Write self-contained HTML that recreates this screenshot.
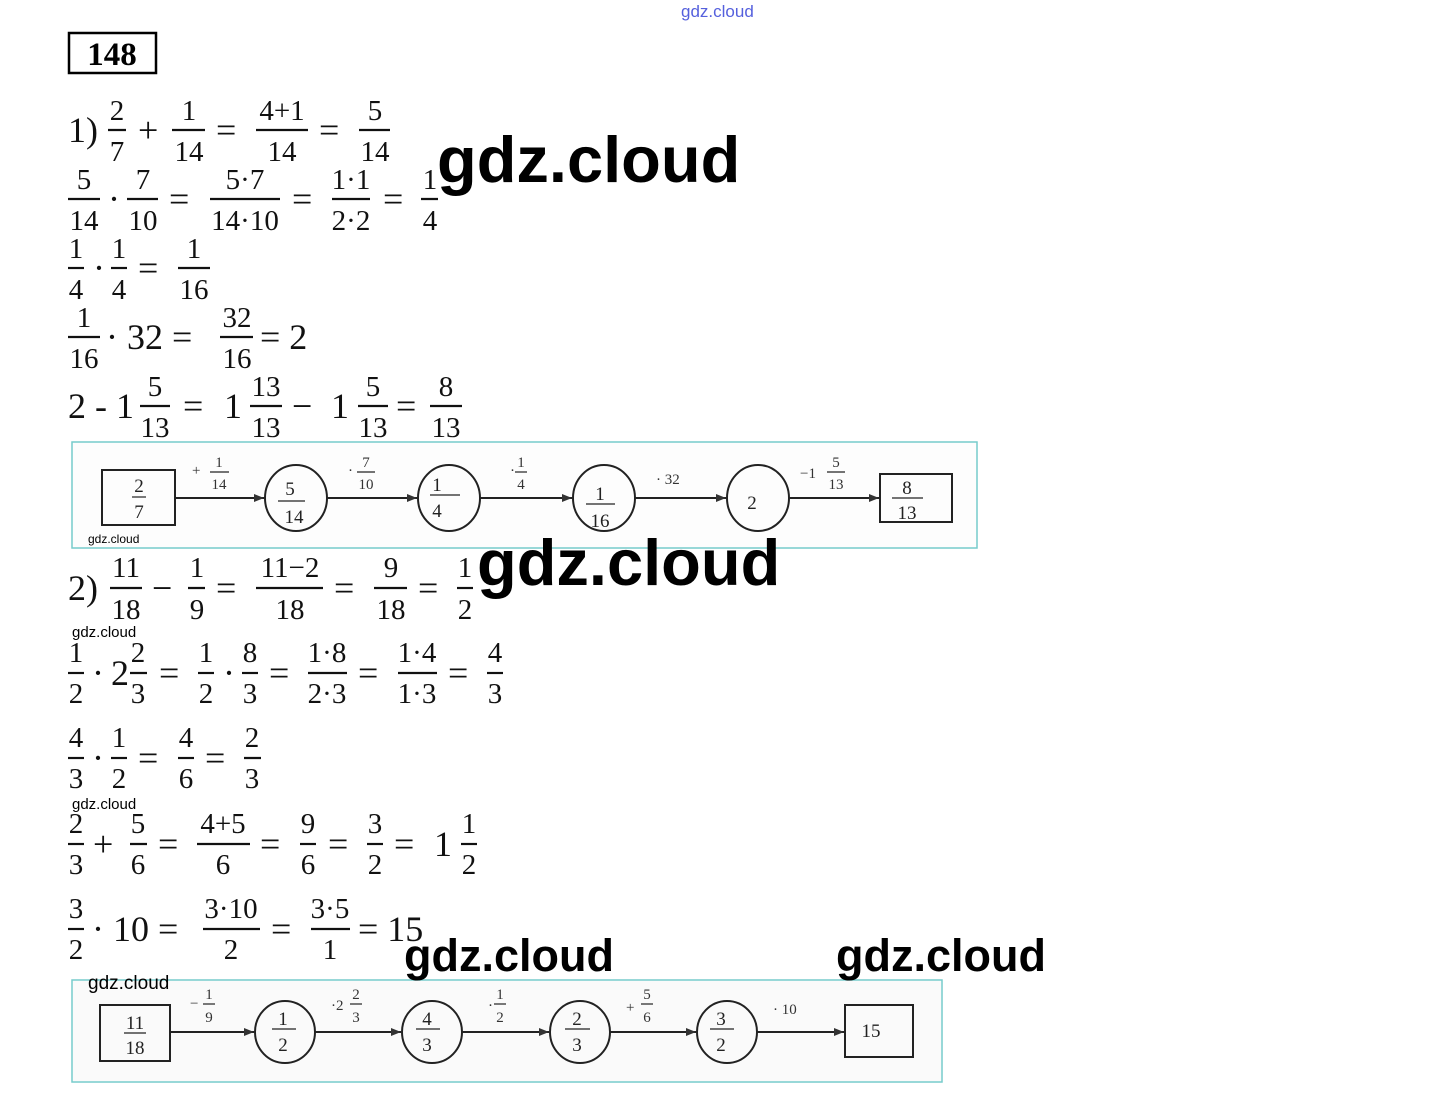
<!DOCTYPE html>
<html><head><meta charset="utf-8"><style>
body{margin:0;background:#fff;}
svg{display:block}
.m{font-family:"Liberation Serif",serif;font-size:29px;fill:#111}
.m text.o{font-size:36px}
.d{font-family:"Liberation Serif",serif;font-size:19px;fill:#222}
.s{font-family:"Liberation Serif",serif;font-size:15px;fill:#333}
.w{font-family:"Liberation Sans",sans-serif;font-weight:bold;fill:#000}
</style></head><body>
<svg width="1439" height="1104" viewBox="0 0 1439 1104" xmlns="http://www.w3.org/2000/svg">
<defs><marker id="a" markerWidth="10" markerHeight="8" refX="10" refY="4" orient="auto" markerUnits="userSpaceOnUse"><path d="M0,0L10,4L0,8Z" fill="#333"/></marker></defs>
<text x="681" y="17" font-family="Liberation Sans" font-size="17" fill="#5560dd">gdz.cloud</text>
<rect x="69" y="33" width="87" height="40" fill="none" stroke="#000" stroke-width="2.5"/>
<text x="112" y="65" text-anchor="middle" font-family="Liberation Serif" font-weight="bold" font-size="33">148</text>
<g class="m" stroke="#111" stroke-width="2.2">
<!-- line1 -->
<text x="68" y="142" stroke="none" class="o">1)</text>
<text x="117" y="120" text-anchor="middle" stroke="none">2</text><line x1="108" y1="130" x2="126" y2="130"/><text x="117" y="161" text-anchor="middle" stroke="none">7</text>
<text x="138" y="142" stroke="none" class="o">+</text>
<text x="189" y="120" text-anchor="middle" stroke="none">1</text><line x1="172" y1="130" x2="205" y2="130"/><text x="189" y="161" text-anchor="middle" stroke="none">14</text>
<text x="216" y="142" stroke="none" class="o">=</text>
<text x="282" y="120" text-anchor="middle" stroke="none">4+1</text><line x1="256" y1="130" x2="308" y2="130"/><text x="282" y="161" text-anchor="middle" stroke="none">14</text>
<text x="319" y="142" stroke="none" class="o">=</text>
<text x="375" y="120" text-anchor="middle" stroke="none">5</text><line x1="359" y1="130" x2="390" y2="130"/><text x="375" y="161" text-anchor="middle" stroke="none">14</text>
<!-- line2 -->
<text x="84" y="189" text-anchor="middle" stroke="none">5</text><line x1="68" y1="199" x2="100" y2="199"/><text x="84" y="230" text-anchor="middle" stroke="none">14</text>
<text x="108" y="211" stroke="none" class="o">·</text>
<text x="143" y="189" text-anchor="middle" stroke="none">7</text><line x1="127" y1="199" x2="158" y2="199"/><text x="143" y="230" text-anchor="middle" stroke="none">10</text>
<text x="169" y="211" stroke="none" class="o">=</text>
<text x="245" y="189" text-anchor="middle" stroke="none">5·7</text><line x1="210" y1="199" x2="280" y2="199"/><text x="245" y="230" text-anchor="middle" stroke="none">14·10</text>
<text x="292" y="211" stroke="none" class="o">=</text>
<text x="351" y="189" text-anchor="middle" stroke="none">1·1</text><line x1="332" y1="199" x2="370" y2="199"/><text x="351" y="230" text-anchor="middle" stroke="none">2·2</text>
<text x="383" y="211" stroke="none" class="o">=</text>
<text x="430" y="189" text-anchor="middle" stroke="none">1</text><line x1="421" y1="199" x2="438" y2="199"/><text x="430" y="230" text-anchor="middle" stroke="none">4</text>
<!-- line3 -->
<text x="76" y="258" text-anchor="middle" stroke="none">1</text><line x1="68" y1="268" x2="84" y2="268"/><text x="76" y="299" text-anchor="middle" stroke="none">4</text>
<text x="93" y="280" stroke="none" class="o">·</text>
<text x="119" y="258" text-anchor="middle" stroke="none">1</text><line x1="111" y1="268" x2="127" y2="268"/><text x="119" y="299" text-anchor="middle" stroke="none">4</text>
<text x="138" y="280" stroke="none" class="o">=</text>
<text x="194" y="258" text-anchor="middle" stroke="none">1</text><line x1="178" y1="268" x2="210" y2="268"/><text x="194" y="299" text-anchor="middle" stroke="none">16</text>
<!-- line4 -->
<text x="84" y="327" text-anchor="middle" stroke="none">1</text><line x1="68" y1="337" x2="100" y2="337"/><text x="84" y="368" text-anchor="middle" stroke="none">16</text>
<text x="106" y="349" stroke="none" class="o">· 32 =</text>
<text x="237" y="327" text-anchor="middle" stroke="none">32</text><line x1="220" y1="337" x2="253" y2="337"/><text x="237" y="368" text-anchor="middle" stroke="none">16</text>
<text x="260" y="349" stroke="none" class="o">= 2</text>
<!-- line5 -->
<text x="68" y="418" stroke="none" class="o">2 - 1</text>
<text x="155" y="396" text-anchor="middle" stroke="none">5</text><line x1="140" y1="406" x2="170" y2="406"/><text x="155" y="437" text-anchor="middle" stroke="none">13</text>
<text x="183" y="418" stroke="none" class="o">=</text>
<text x="224" y="418" stroke="none" class="o">1</text>
<text x="266" y="396" text-anchor="middle" stroke="none">13</text><line x1="250" y1="406" x2="282" y2="406"/><text x="266" y="437" text-anchor="middle" stroke="none">13</text>
<text x="292" y="418" stroke="none" class="o">−</text>
<text x="331" y="418" stroke="none" class="o">1</text>
<text x="373" y="396" text-anchor="middle" stroke="none">5</text><line x1="358" y1="406" x2="388" y2="406"/><text x="373" y="437" text-anchor="middle" stroke="none">13</text>
<text x="396" y="418" stroke="none" class="o">=</text>
<text x="446" y="396" text-anchor="middle" stroke="none">8</text><line x1="430" y1="406" x2="462" y2="406"/><text x="446" y="437" text-anchor="middle" stroke="none">13</text>
<!-- line6 -->
<text x="68" y="600" stroke="none" class="o">2)</text>
<text x="126" y="577" text-anchor="middle" stroke="none">11</text><line x1="110" y1="588" x2="142" y2="588"/><text x="126" y="619" text-anchor="middle" stroke="none">18</text>
<text x="152" y="600" stroke="none" class="o">−</text>
<text x="197" y="577" text-anchor="middle" stroke="none">1</text><line x1="188" y1="588" x2="205" y2="588"/><text x="197" y="619" text-anchor="middle" stroke="none">9</text>
<text x="216" y="600" stroke="none" class="o">=</text>
<text x="290" y="577" text-anchor="middle" stroke="none">11−2</text><line x1="256" y1="588" x2="323" y2="588"/><text x="290" y="619" text-anchor="middle" stroke="none">18</text>
<text x="334" y="600" stroke="none" class="o">=</text>
<text x="391" y="577" text-anchor="middle" stroke="none">9</text><line x1="374" y1="588" x2="407" y2="588"/><text x="391" y="619" text-anchor="middle" stroke="none">18</text>
<text x="418" y="600" stroke="none" class="o">=</text>
<text x="465" y="577" text-anchor="middle" stroke="none">1</text><line x1="457" y1="588" x2="473" y2="588"/><text x="465" y="619" text-anchor="middle" stroke="none">2</text>
<!-- line7 -->
<text x="76" y="662" text-anchor="middle" stroke="none">1</text><line x1="68" y1="673" x2="84" y2="673"/><text x="76" y="703" text-anchor="middle" stroke="none">2</text>
<text x="92" y="685" stroke="none" class="o">·</text>
<text x="111" y="685" stroke="none" class="o">2</text>
<text x="138" y="662" text-anchor="middle" stroke="none">2</text><line x1="130" y1="673" x2="147" y2="673"/><text x="138" y="703" text-anchor="middle" stroke="none">3</text>
<text x="159" y="685" stroke="none" class="o">=</text>
<text x="206" y="662" text-anchor="middle" stroke="none">1</text><line x1="198" y1="673" x2="214" y2="673"/><text x="206" y="703" text-anchor="middle" stroke="none">2</text>
<text x="223" y="685" stroke="none" class="o">·</text>
<text x="250" y="662" text-anchor="middle" stroke="none">8</text><line x1="242" y1="673" x2="258" y2="673"/><text x="250" y="703" text-anchor="middle" stroke="none">3</text>
<text x="269" y="685" stroke="none" class="o">=</text>
<text x="327" y="662" text-anchor="middle" stroke="none">1·8</text><line x1="308" y1="673" x2="347" y2="673"/><text x="327" y="703" text-anchor="middle" stroke="none">2·3</text>
<text x="358" y="685" stroke="none" class="o">=</text>
<text x="417" y="662" text-anchor="middle" stroke="none">1·4</text><line x1="398" y1="673" x2="437" y2="673"/><text x="417" y="703" text-anchor="middle" stroke="none">1·3</text>
<text x="448" y="685" stroke="none" class="o">=</text>
<text x="495" y="662" text-anchor="middle" stroke="none">4</text><line x1="487" y1="673" x2="503" y2="673"/><text x="495" y="703" text-anchor="middle" stroke="none">3</text>
<!-- line8 -->
<text x="76" y="747" text-anchor="middle" stroke="none">4</text><line x1="68" y1="758" x2="84" y2="758"/><text x="76" y="788" text-anchor="middle" stroke="none">3</text>
<text x="92" y="770" stroke="none" class="o">·</text>
<text x="119" y="747" text-anchor="middle" stroke="none">1</text><line x1="111" y1="758" x2="127" y2="758"/><text x="119" y="788" text-anchor="middle" stroke="none">2</text>
<text x="138" y="770" stroke="none" class="o">=</text>
<text x="186" y="747" text-anchor="middle" stroke="none">4</text><line x1="178" y1="758" x2="194" y2="758"/><text x="186" y="788" text-anchor="middle" stroke="none">6</text>
<text x="205" y="770" stroke="none" class="o">=</text>
<text x="252" y="747" text-anchor="middle" stroke="none">2</text><line x1="244" y1="758" x2="261" y2="758"/><text x="252" y="788" text-anchor="middle" stroke="none">3</text>
<!-- line9 -->
<text x="76" y="833" text-anchor="middle" stroke="none">2</text><line x1="68" y1="844" x2="84" y2="844"/><text x="76" y="874" text-anchor="middle" stroke="none">3</text>
<text x="93" y="856" stroke="none" class="o">+</text>
<text x="138" y="833" text-anchor="middle" stroke="none">5</text><line x1="130" y1="844" x2="147" y2="844"/><text x="138" y="874" text-anchor="middle" stroke="none">6</text>
<text x="158" y="856" stroke="none" class="o">=</text>
<text x="223" y="833" text-anchor="middle" stroke="none">4+5</text><line x1="197" y1="844" x2="250" y2="844"/><text x="223" y="874" text-anchor="middle" stroke="none">6</text>
<text x="260" y="856" stroke="none" class="o">=</text>
<text x="308" y="833" text-anchor="middle" stroke="none">9</text><line x1="300" y1="844" x2="316" y2="844"/><text x="308" y="874" text-anchor="middle" stroke="none">6</text>
<text x="328" y="856" stroke="none" class="o">=</text>
<text x="375" y="833" text-anchor="middle" stroke="none">3</text><line x1="367" y1="844" x2="383" y2="844"/><text x="375" y="874" text-anchor="middle" stroke="none">2</text>
<text x="394" y="856" stroke="none" class="o">=</text>
<text x="434" y="856" stroke="none" class="o">1</text>
<text x="469" y="833" text-anchor="middle" stroke="none">1</text><line x1="461" y1="844" x2="477" y2="844"/><text x="469" y="874" text-anchor="middle" stroke="none">2</text>
<!-- line10 -->
<text x="76" y="918" text-anchor="middle" stroke="none">3</text><line x1="68" y1="929" x2="84" y2="929"/><text x="76" y="959" text-anchor="middle" stroke="none">2</text>
<text x="92" y="941" stroke="none" class="o">· 10 =</text>
<text x="231" y="918" text-anchor="middle" stroke="none">3·10</text><line x1="203" y1="929" x2="260" y2="929"/><text x="231" y="959" text-anchor="middle" stroke="none">2</text>
<text x="271" y="941" stroke="none" class="o">=</text>
<text x="330" y="918" text-anchor="middle" stroke="none">3·5</text><line x1="311" y1="929" x2="350" y2="929"/><text x="330" y="959" text-anchor="middle" stroke="none">1</text>
<text x="358" y="941" stroke="none" class="o">= 15</text>
</g>

<!-- diagram 1 -->
<rect x="72" y="442" width="905" height="106" fill="#fdfdfd" stroke="#77cccc" stroke-width="1.5"/>
<g stroke="#222" stroke-width="2" fill="none">
<rect x="102" y="470" width="73" height="55"/>
<ellipse cx="296" cy="498" rx="31" ry="33"/>
<ellipse cx="449" cy="498" rx="31" ry="33"/>
<ellipse cx="604" cy="498" rx="31" ry="33"/>
<ellipse cx="758" cy="498" rx="31" ry="33"/>
<rect x="880" y="474" width="72" height="48"/>
<line x1="175" y1="498" x2="264" y2="498" marker-end="url(#a)"/>
<line x1="327" y1="498" x2="417" y2="498" marker-end="url(#a)"/>
<line x1="480" y1="498" x2="572" y2="498" marker-end="url(#a)"/>
<line x1="635" y1="498" x2="726" y2="498" marker-end="url(#a)"/>
<line x1="789" y1="498" x2="879" y2="498" marker-end="url(#a)"/>
</g>
<g class="d" stroke="#222" stroke-width="1.2">
<text x="139" y="492" text-anchor="middle" stroke="none">2</text><line x1="132" y1="497" x2="146" y2="497"/><text x="139" y="518" text-anchor="middle" stroke="none">7</text>
<text x="290" y="495" text-anchor="middle" stroke="none">5</text><line x1="278" y1="501" x2="305" y2="501"/><text x="294" y="523" text-anchor="middle" stroke="none">14</text>
<text x="437" y="491" text-anchor="middle" stroke="none">1</text><line x1="430" y1="495" x2="460" y2="495"/><text x="437" y="517" text-anchor="middle" stroke="none">4</text>
<text x="600" y="500" text-anchor="middle" stroke="none">1</text><line x1="586" y1="504" x2="615" y2="504"/><text x="600" y="527" text-anchor="middle" stroke="none">16</text>
<text x="752" y="509" text-anchor="middle" stroke="none">2</text>
<text x="907" y="494" text-anchor="middle" stroke="none">8</text><line x1="892" y1="498" x2="923" y2="498"/><text x="907" y="519" text-anchor="middle" stroke="none">13</text>
<text x="192" y="475" class="s" stroke="none">+</text><text x="219" y="467" text-anchor="middle" class="s" stroke="none">1</text><line x1="210" y1="472" x2="229" y2="472"/><text x="219" y="489" text-anchor="middle" class="s" stroke="none">14</text>
<text x="348" y="475" class="s" stroke="none">·</text><text x="366" y="467" text-anchor="middle" class="s" stroke="none">7</text><line x1="357" y1="472" x2="375" y2="472"/><text x="366" y="489" text-anchor="middle" class="s" stroke="none">10</text>
<text x="510" y="475" class="s" stroke="none">·</text><text x="521" y="467" text-anchor="middle" class="s" stroke="none">1</text><line x1="515" y1="472" x2="527" y2="472"/><text x="521" y="489" text-anchor="middle" class="s" stroke="none">4</text>
<text x="656" y="484" class="s" stroke="none">· 32</text>
<text x="800" y="478" class="s" stroke="none">−1</text><text x="836" y="467" text-anchor="middle" class="s" stroke="none">5</text><line x1="827" y1="472" x2="845" y2="472"/><text x="836" y="489" text-anchor="middle" class="s" stroke="none">13</text>
</g>
<text x="88" y="543" font-family="Liberation Sans" font-size="12" fill="#000">gdz.cloud</text>

<!-- diagram 2 -->
<rect x="72" y="980" width="870" height="102" fill="#fafafa" stroke="#77cccc" stroke-width="1.5"/>
<g stroke="#222" stroke-width="2" fill="none">
<rect x="100" y="1005" width="70" height="56"/>
<ellipse cx="285" cy="1032" rx="30" ry="31"/>
<ellipse cx="432" cy="1032" rx="30" ry="31"/>
<ellipse cx="580" cy="1032" rx="30" ry="31"/>
<ellipse cx="727" cy="1032" rx="30" ry="31"/>
<rect x="845" y="1005" width="68" height="52"/>
<line x1="170" y1="1032" x2="254" y2="1032" marker-end="url(#a)"/>
<line x1="315" y1="1032" x2="401" y2="1032" marker-end="url(#a)"/>
<line x1="462" y1="1032" x2="549" y2="1032" marker-end="url(#a)"/>
<line x1="610" y1="1032" x2="696" y2="1032" marker-end="url(#a)"/>
<line x1="757" y1="1032" x2="844" y2="1032" marker-end="url(#a)"/>
</g>
<g class="d" stroke="#222" stroke-width="1.2">
<text x="135" y="1029" text-anchor="middle" stroke="none">11</text><line x1="124" y1="1033" x2="146" y2="1033"/><text x="135" y="1054" text-anchor="middle" stroke="none">18</text>
<text x="283" y="1025" text-anchor="middle" stroke="none">1</text><line x1="272" y1="1029" x2="296" y2="1029"/><text x="283" y="1051" text-anchor="middle" stroke="none">2</text>
<text x="427" y="1025" text-anchor="middle" stroke="none">4</text><line x1="416" y1="1029" x2="440" y2="1029"/><text x="427" y="1051" text-anchor="middle" stroke="none">3</text>
<text x="577" y="1025" text-anchor="middle" stroke="none">2</text><line x1="565" y1="1029" x2="590" y2="1029"/><text x="577" y="1051" text-anchor="middle" stroke="none">3</text>
<text x="721" y="1025" text-anchor="middle" stroke="none">3</text><line x1="710" y1="1029" x2="734" y2="1029"/><text x="721" y="1051" text-anchor="middle" stroke="none">2</text>
<text x="871" y="1037" text-anchor="middle" stroke="none">15</text>
<text x="190" y="1008" class="s" stroke="none">−</text><text x="209" y="999" text-anchor="middle" class="s" stroke="none">1</text><line x1="203" y1="1004" x2="215" y2="1004"/><text x="209" y="1022" text-anchor="middle" class="s" stroke="none">9</text>
<text x="331" y="1010" class="s" stroke="none">·2</text><text x="356" y="999" text-anchor="middle" class="s" stroke="none">2</text><line x1="350" y1="1004" x2="362" y2="1004"/><text x="356" y="1022" text-anchor="middle" class="s" stroke="none">3</text>
<text x="488" y="1010" class="s" stroke="none">·</text><text x="500" y="999" text-anchor="middle" class="s" stroke="none">1</text><line x1="494" y1="1004" x2="506" y2="1004"/><text x="500" y="1022" text-anchor="middle" class="s" stroke="none">2</text>
<text x="626" y="1012" class="s" stroke="none">+</text><text x="647" y="999" text-anchor="middle" class="s" stroke="none">5</text><line x1="641" y1="1004" x2="653" y2="1004"/><text x="647" y="1022" text-anchor="middle" class="s" stroke="none">6</text>
<text x="773" y="1014" class="s" stroke="none">· 10</text>
</g>

<!-- watermarks -->
<text x="437" y="182" class="w" font-size="65">gdz.cloud</text>
<text x="477" y="585" class="w" font-size="65">gdz.cloud</text>
<text x="404" y="971" class="w" font-size="45">gdz.cloud</text>
<text x="836" y="971" class="w" font-size="45">gdz.cloud</text>
<text x="72" y="637" font-family="Liberation Sans" font-size="15" fill="#000">gdz.cloud</text>
<text x="72" y="809" font-family="Liberation Sans" font-size="15" fill="#000">gdz.cloud</text>
<text x="88" y="989" font-family="Liberation Sans" font-size="19" fill="#000">gdz.cloud</text>
</svg>
</body></html>
